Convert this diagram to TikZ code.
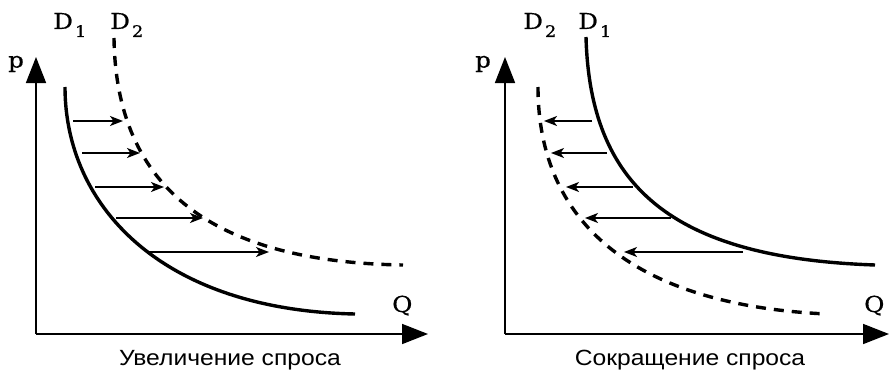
\documentclass[tikz,border=0pt]{standalone}
\usepackage{fontspec}
\newfontfamily\capfont[FakeStretch=1.12]{Liberation Sans}
\newfontfamily\lblfont[FakeStretch=1.12,FakeBold=0.6]{DejaVu Serif}
\usetikzlibrary{arrows.meta}
\newcommand{\Dlab}[1]{D\kern2pt\raisebox{-8pt}{\fontsize{16}{16}\selectfont #1}}
\begin{document}
\begin{tikzpicture}[x=1pt,y=-1pt,
  axis/.style={line width=1.7pt,-{Triangle[length=26pt,width=20pt]}},
  curve/.style={line width=3.4pt},
  dcurve/.style={line width=3.4pt,dash pattern=on 10pt off 8pt},
  shift arrow/.style={line width=1.6pt,-{Stealth[length=13pt,width=10pt,inset=3.5pt]}},
  lbl/.style={font=\lblfont\fontsize{22}{24}\selectfont,inner sep=0pt,anchor=base west},
  captext/.style={font=\capfont\fontsize{22}{24}\selectfont,inner sep=0pt,anchor=base}]
\useasboundingbox (0,0) rectangle (890,369);
% ---------- left panel ----------
\coordinate (O1) at (36,334);
\coordinate (Y1) at (36,57);
\coordinate (X1) at (428,334);
\draw[axis] (O1) -- (Y1);
\draw[axis] (O1) -- (X1);
\node[lbl,anchor=center] (p1) at (16,64) {p};
\node[lbl] (Q1) at (392,312) {Q};
\node[lbl] (D1a) at (53,29) {\Dlab{1}};
\node[lbl] (D2a) at (110,29) {\Dlab{2}};
\coordinate (s1a) at (65,87);
\coordinate (s1b) at (355,314);
\coordinate (d1a) at (114,38);
\coordinate (d1b) at (403,265);
\draw[curve] (s1a) .. controls (65,205) and (160,310) .. (s1b);
\draw[dcurve] (d1a) .. controls (116,190) and (215,262) .. (d1b);
\foreach \i/\xa/\xb/\yy in {1/73/123/121, 2/82/140/153, 3/95/164/187, 4/116/203/218, 5/148/269/252}{
  \coordinate (La\i) at (\xa,\yy);
  \coordinate (Lb\i) at (\xb,\yy);
  \draw[shift arrow] (La\i) -- (Lb\i);
}
\node[captext] (c1) at (230,365) {Увеличение спроса};
% ---------- right panel ----------
\coordinate (O2) at (505,334);
\coordinate (Y2) at (505,57);
\coordinate (X2) at (889,334);
\draw[axis] (O2) -- (Y2);
\draw[axis] (O2) -- (X2);
\node[lbl,anchor=center] (p2) at (483,64) {p};
\node[lbl] (Q2) at (864,312) {Q};
\node[lbl] (D2b) at (523,29) {\Dlab{2}};
\node[lbl] (D1b) at (578,29) {\Dlab{1}};
\coordinate (s2a) at (586,37);
\coordinate (s2b) at (875,265);
\coordinate (d2a) at (538,87);
\coordinate (d2b) at (827,314);
\draw[curve] (s2a) .. controls (590,185) and (670,258) .. (s2b);
\draw[dcurve] (d2a) .. controls (538,220) and (630,305) .. (d2b);
\foreach \i/\xa/\xb/\yy in {1/592/544/121, 2/607/551/153, 3/633/566/187, 4/671/585/218, 5/743/624/252}{
  \coordinate (Ra\i) at (\xa,\yy);
  \coordinate (Rb\i) at (\xb,\yy);
  \draw[shift arrow] (Ra\i) -- (Rb\i);
}
\node[captext] (c2) at (690,365) {Сокращение спроса};
\end{tikzpicture}
\end{document}
